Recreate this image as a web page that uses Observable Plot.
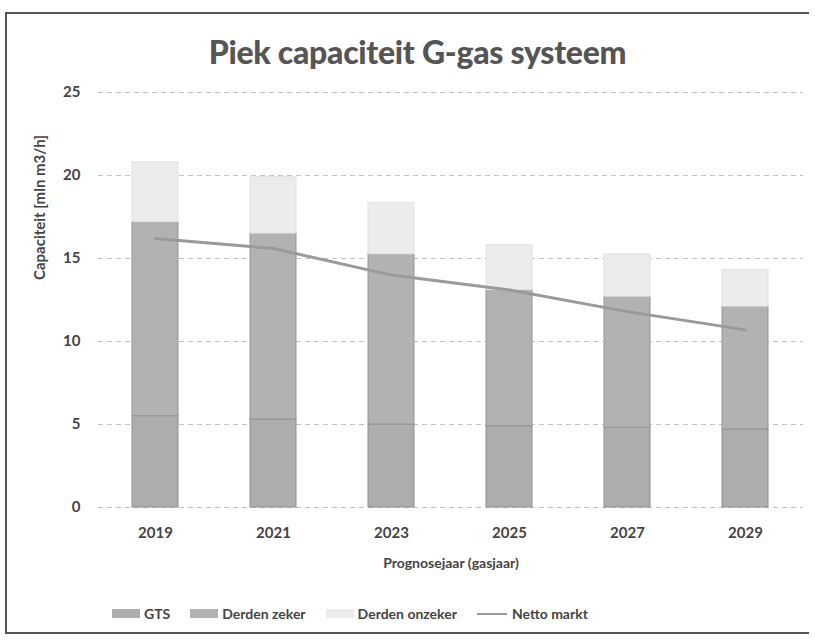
<!DOCTYPE html>
<html>
<head>
<meta charset="utf-8">
<script src="https://cdn.jsdelivr.net/npm/d3@7"></script>
<script src="https://cdn.jsdelivr.net/npm/@observablehq/plot@0.6"></script>
<style>
  body { margin: 0; background: #fff; font-family: Lato, "Open Sans", sans-serif; }
  #wrap { position: relative; width: 815px; height: 640px; overflow: hidden; }
  #frame { position: absolute; left: 5px; top: 12px; width: 804px; height: 622px; border: 2px solid #555; border-right: none; box-sizing: border-box; }
  #title { position: absolute; top: 32px; left: 0; width: 835px; text-align: center; font-weight: 900; font-size: 32px; color: #555; letter-spacing: -0.3px; }
  #chart { position: absolute; left: 0; top: 80px; }
  #legend { position: absolute; top: 605px; left: 112px; display: flex; align-items: center; font-weight: 700; font-size: 14px; color: #444; }
  .sw { display: inline-block; width: 28px; height: 9px; margin-right: 4px; }
  .item { display: flex; align-items: center; margin-right: 20px; }
  .ln { display: inline-block; width: 30px; height: 2px; background: #9a9a9a; margin-right: 5px; }
</style>
</head>
<body>
<div id="wrap">
  <div id="frame"></div>
  <div id="title">Piek capaciteit G-gas systeem</div>
  <div id="chart"></div>
  <div id="legend"></div>
</div>
<script>
const years = ["2019", "2021", "2023", "2025", "2027", "2029"];
const gts = [5.5, 5.3, 5.0, 4.9, 4.8, 4.7];
const derdenZeker = [11.7, 11.2, 10.25, 8.2, 7.9, 7.4];
const derdenOnzeker = [3.6, 3.4, 3.1, 2.7, 2.55, 2.2];
const nettoMarkt = [16.2, 15.6, 14.0, 13.1, 11.8, 10.7];
const seriesNames = ["GTS", "Derden zeker", "Derden onzeker"];
const seriesColors = ["#adadad", "#b2b2b2", "#ececec"];
const seriesStrokes = ["#8e8e8e", "#959595", "#e2e2e2"];
const yTicks = [0, 5, 10, 15, 20, 25];

const seriesValues = [gts, derdenZeker, derdenOnzeker];
const rows = [];
years.forEach((yr, i) => {
  seriesNames.forEach((s, j) => rows.push({year: yr, series: s, value: seriesValues[j][i]}));
});
const lineRows = years.map((yr, i) => ({year: yr, value: nettoMarkt[i]}));

const chart = Plot.plot({
  width: 815,
  height: 500,
  marginLeft: 98,
  marginRight: 12,
  marginTop: 12,
  marginBottom: 73,
  style: {fontFamily: "Lato, 'Open Sans', sans-serif", fontWeight: "700", fontSize: "14px", color: "#444", background: "transparent"},
  x: {domain: years, paddingInner: 0.61, paddingOuter: 0.29, label: null},
  y: {domain: [0, 25], label: null},
  color: {domain: seriesNames, range: seriesColors},
  marks: [
    Plot.gridY(yTicks, {stroke: "#999", strokeOpacity: 0.6, strokeDasharray: "5,4"}),
    Plot.barY(rows, Plot.stackY({
      x: "year", y: "value", fill: "series",
      stroke: d => seriesStrokes[seriesNames.indexOf(d.series)],
      strokeWidth: 1,
      order: seriesNames
    })),
    Plot.line(lineRows, {x: "year", y: "value", stroke: "#9a9a9a", strokeWidth: 3}),
    Plot.axisY(yTicks, {tickSize: 0, tickPadding: 18, fontSize: 15, fontWeight: 700, fill: "#444", label: null}),
    Plot.axisX({tickSize: 0, tickPadding: 20, fontSize: 15, fontWeight: 700, fill: "#444", label: null}),
    Plot.text(["Prognosejaar (gasjaar)"], {frameAnchor: "bottom", lineAnchor: "middle", dy: 56, fontSize: 14, fontWeight: 700, fill: "#444"}),
    Plot.text(["Capaciteit [mln m3/h]"], {frameAnchor: "left", dx: -58, dy: -20, rotate: -90, fontSize: 15, fontWeight: 700, fill: "#444"})
  ]
});
document.getElementById("chart").appendChild(chart);

const legend = document.getElementById("legend");
seriesNames.forEach((s, j) => {
  const it = document.createElement("div");
  it.className = "item";
  it.innerHTML = `<span class="sw" style="background:${seriesColors[j]}"></span>${s}`;
  legend.appendChild(it);
});
const li = document.createElement("div");
li.className = "item";
li.innerHTML = `<span class="ln"></span>Netto markt`;
legend.appendChild(li);
</script>
</body>
</html>
